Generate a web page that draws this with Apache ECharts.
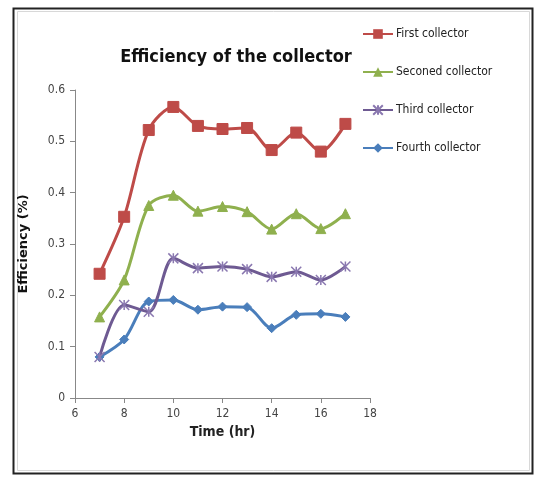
<!DOCTYPE html>
<html><head><meta charset="utf-8">
<script src="https://cdn.jsdelivr.net/npm/echarts@6/dist/echarts.min.js"></script>
<style>html,body{margin:0;padding:0;background:#fff}#c{width:541px;height:477px}</style>
</head><body><div id="c"></div>
<script>
const hours = [7, 8, 9, 10, 11, 12, 13, 14, 15, 16, 17];
const firstCollector  = [0.242, 0.353, 0.522, 0.567, 0.530, 0.524, 0.526, 0.483, 0.517, 0.480, 0.534];
const secondCollector = [0.158, 0.230, 0.375, 0.395, 0.364, 0.373, 0.363, 0.329, 0.359, 0.330, 0.359];
const thirdCollector  = [0.080, 0.181, 0.168, 0.272, 0.253, 0.256, 0.251, 0.236, 0.246, 0.230, 0.256];
const fourthCollector = [0.080, 0.114, 0.188, 0.191, 0.172, 0.178, 0.177, 0.136, 0.162, 0.164, 0.158];
const seriesNames = ['First collector', 'Seconed collector', 'Third collector', 'Fourth collector'];
const yTicks = [0, 0.1, 0.2, 0.3, 0.4, 0.5, 0.6];
const xTicks = [6, 8, 10, 12, 14, 16, 18];

const FONT = '"DejaVu Sans Condensed", "Liberation Sans Narrow", sans-serif';
const colors = ['#BE4B48', '#8FB04E', '#6E5A92', '#4A7EBB'];
const symbols = ['rect', 'triangle', 'path://M0,0 L10,10 M10,0 L0,10 M5,0 L5,10', 'diamond'];
const sizes = [11, 10, 10, 9];
const datasets = [firstCollector, secondCollector, thirdCollector, fourthCollector];

const chart = echarts.init(document.getElementById('c'), null, {renderer: 'canvas'});
chart.setOption({
  backgroundColor: '#fff',
  animation: false,
  graphic: [
    {type: 'rect', shape: {x: 13.5, y: 8.5, width: 519, height: 465}, style: {fill: 'none', stroke: '#222', lineWidth: 2}, z: 0},
    {type: 'rect', shape: {x: 17.5, y: 11.5, width: 512, height: 459}, style: {fill: 'none', stroke: '#d8d8d8', lineWidth: 1}, z: 0}
  ],
  title: {
    text: 'Efficiency of the collector',
    left: 231, top: 43, textAlign: 'center',
    textStyle: {fontFamily: FONT, fontSize: 18, fontWeight: 'bold', color: '#111'}
  },
  legend: {
    orient: 'vertical', left: 357, top: 23, itemGap: 26,
    itemWidth: 30, itemHeight: 12,
    textStyle: {fontFamily: FONT, fontSize: 12, color: '#222', padding: [0, 0, 0, -2]},
    data: seriesNames
  },
  grid: {left: 75, top: 90, right: 171, bottom: 79, containLabel: false},
  xAxis: {
    type: 'value', min: 6, max: 18, interval: 2,
    name: 'Time (hr)', nameLocation: 'middle', nameGap: 27,
    nameTextStyle: {fontFamily: FONT, fontSize: 14, fontWeight: 'bold', color: '#222'},
    axisLine: {lineStyle: {color: '#888'}},
    axisTick: {show: true, inside: false, length: 5, lineStyle: {color: '#888'}},
    axisLabel: {fontFamily: FONT, fontSize: 12, color: '#444', margin: 10},
    splitLine: {show: false}
  },
  yAxis: {
    type: 'value', min: 0, max: 0.6, interval: 0.1,
    name: 'Efficiency (%)', nameLocation: 'middle', nameGap: 45,
    nameTextStyle: {fontFamily: 'DejaVu Sans, sans-serif', fontSize: 13, fontWeight: 'bold', color: '#111'},
    axisLine: {show: true, lineStyle: {color: '#888'}},
    axisTick: {show: true, inside: false, length: 5, lineStyle: {color: '#888'}},
    axisLabel: {fontFamily: FONT, fontSize: 12, color: '#444', margin: 10,
      formatter: v => (Math.round(v * 10) / 10).toString()},
    splitLine: {show: false}
  },
  series: datasets.map((d, i) => ({
    name: seriesNames[i],
    type: 'line',
    smooth: 0.3,
    data: hours.map((h, j) => [h, d[j]]),
    symbol: symbols[i],
    symbolSize: sizes[i],
    showAllSymbol: true,
    lineStyle: {color: colors[i], width: 3},
    itemStyle: i === 2 ? {color: colors[i], borderColor: '#8a78b0', borderWidth: 1.5} : {color: colors[i], borderColor: colors[i]},
    z: 10 - i
  }))
});
</script></body></html>
